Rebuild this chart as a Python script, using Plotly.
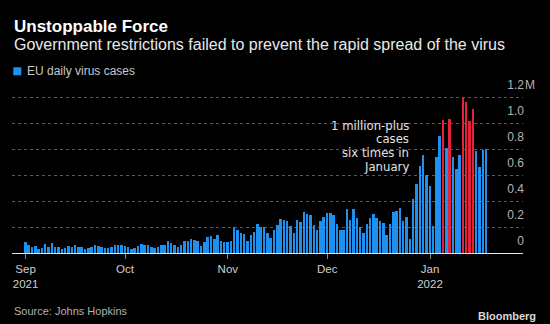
import pandas as pd
import plotly.graph_objects as go

# Daily EU virus cases, millions
sep_cases = [0.087, 0.064, 0.049, 0.056, 0.028, 0.038, 0.072, 0.049, 0.079, 0.044,
             0.044, 0.031, 0.036, 0.056, 0.049, 0.064, 0.049, 0.044, 0.031, 0.041,
             0.046, 0.059, 0.056, 0.049, 0.036, 0.036, 0.046, 0.058, 0.064, 0.064]
oct_cases = [0.056, 0.044, 0.031, 0.038, 0.056, 0.072, 0.064, 0.064, 0.049, 0.038,
             0.044, 0.064, 0.064, 0.090, 0.077, 0.064, 0.049, 0.064, 0.095, 0.095,
             0.110, 0.103, 0.090, 0.056, 0.085, 0.123, 0.133, 0.109, 0.141, 0.090,
             0.085]
nov_cases = [0.085, 0.090, 0.197, 0.174, 0.156, 0.149, 0.095, 0.141, 0.162, 0.221,
             0.200, 0.200, 0.154, 0.118, 0.179, 0.215, 0.264, 0.254, 0.246, 0.210,
             0.156, 0.254, 0.241, 0.318, 0.300, 0.292, 0.218, 0.174, 0.246, 0.279]
dec_cases = [0.310, 0.310, 0.292, 0.226, 0.174, 0.174, 0.338, 0.251, 0.338, 0.272,
             0.203, 0.156, 0.221, 0.272, 0.300, 0.272, 0.244, 0.233, 0.141, 0.221,
             0.318, 0.326, 0.345, 0.248, 0.280, 0.110, 0.418, 0.533, 0.672, 0.753,
             0.603]
jan_cases = [0.513, 0.210, 0.738, 0.900, 1.020, 0.809, 1.027, 0.738, 0.648, 0.757,
             1.189, 1.165, 1.013, 1.110, 0.784, 0.658, 0.789, 0.800]

start_date = "2021-09-01"
month_ticks = ["2021-09-01", "2021-10-01", "2021-11-01", "2021-12-01", "2022-01-01"]
month_labels = ["Sep<br>2021", "Oct", "Nov", "Dec", "Jan<br>2022"]
y_ticks = [0, 0.2, 0.4, 0.6, 0.8, 1.0, 1.2]
y_labels = ["0", "0.2", "0.4", "0.6", "0.8", "1.0", "1.2"]

cases = sep_cases + oct_cases + nov_cases + dec_cases + jan_cases
dates = pd.date_range(start_date, periods=len(cases), freq="D")

BLUE = "#1e90f0"
RED = "#e6223a"
colors = [RED if v >= 1.0 else BLUE for v in cases]

FONT = "Liberation Sans, Arial, sans-serif"
NOTE_FONT = "DejaVu Sans, sans-serif"
DAY_MS = 24 * 3600 * 1000

# plot-area geometry in pixels (used to place the surrounding text);
# the area reaches above the top gridline so the top tick label stays visible
W, H = 550, 324
L, R, T, B = 12, 27, 78, 71
PW, PH = W - L - R, H - T - B
Y_TOP = 1.2 * PH / 156  # 1.2M gridline sits 156 px above the baseline


def px(xp):
    return (xp - L) / PW


def py(yp):
    return (H - B - yp) / PH


fig = go.Figure(
    go.Bar(
        x=dates,
        y=cases,
        marker=dict(color=colors, line=dict(width=0)),
        width=0.6 * DAY_MS,
        showlegend=False,
        hoverinfo="skip",
    )
)

annotations = [
    dict(text="<b>Unstoppable Force</b>", x=px(12), y=py(26.2),
         font=dict(size=17, color="#ffffff")),
    dict(text="Government restrictions failed to prevent the rapid spread of the virus",
         x=px(12), y=py(44.5), font=dict(size=16, color="#e8e8e8")),
    dict(text="EU daily virus cases", x=px(25), y=py(71.4),
         font=dict(size=12, color="#c8c8c8")),
    dict(text="Source: Johns Hopkins", x=px(12), y=py(310.5),
         font=dict(size=11, color="#b0b0b0")),
]
for a in annotations:
    a.update(xref="paper", yref="paper", xanchor="left", yanchor="middle",
             showarrow=False)

annotations.append(dict(text="<b>Bloomberg</b>", xref="paper", yref="paper",
                        x=px(538), y=py(316), xanchor="right", yanchor="middle",
                        showarrow=False, font=dict(size=11, color="#d8d8d8")))
annotations.append(dict(text="M", xref="paper", yref="y", x=1.0, y=1.2,
                        yshift=12, xanchor="left", yanchor="middle",
                        showarrow=False, font=dict(size=12, color="#b4b4b4")))

callout = ["1 million-plus", "cases", "six times in", "January"]
for i, line in enumerate(callout):
    annotations.append(dict(text=line, xref="paper", yref="paper",
                            x=px(410.5), y=py(125.5 + 13.8 * i),
                            xanchor="right", yanchor="middle", showarrow=False,
                            font=dict(family=NOTE_FONT, size=11.7,
                                      color="#e2e2e2")))

fig.update_layout(
    width=W, height=H, autosize=False,
    margin=dict(l=L, r=R, t=T, b=B, pad=0),
    paper_bgcolor="#000000", plot_bgcolor="#000000",
    font=dict(family=FONT, color="#cccccc"),
    bargap=0,
    annotations=annotations,
    shapes=[dict(type="rect", xref="paper", yref="paper",
                 x0=px(13.3), x1=px(21.3), y0=py(75.3), y1=py(67.3),
                 fillcolor=BLUE, line=dict(width=0))],
    xaxis=dict(
        type="date",
        range=["2021-08-27 21:36", "2022-01-29 01:12"],
        tickvals=month_ticks, ticktext=month_labels,
        ticks="outside", ticklen=5, tickwidth=1, tickcolor="#8c8c8c",
        showline=True, linecolor="#e6e6e6", linewidth=1,
        showgrid=False, zeroline=False,
        tickfont=dict(size=11.5, color="#cfcfcf"),
        fixedrange=True,
    ),
    yaxis=dict(
        side="right", range=[0, Y_TOP],
        tickvals=y_ticks, ticktext=y_labels,
        showgrid=True, gridcolor="#5a5a5a", gridwidth=1, griddash="dot",
        zeroline=False, showline=False, ticks="",
        ticklabelposition="inside", ticklabelshift=-12, ticklabelstandoff=-4,
        tickfont=dict(size=12, color="#b4b4b4"),
        fixedrange=True,
    ),
)

fig.write_html("out.html")
